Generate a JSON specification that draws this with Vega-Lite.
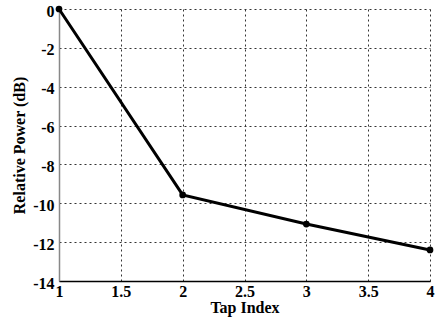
{
  "$schema": "https://vega.github.io/schema/vega-lite/v6.json",
  "width": 371,
  "height": 272,
  "autosize": "none",
  "padding": {"left": 59, "top": 9, "right": 5, "bottom": 40},
  "background": "white",
  "config": {
    "view": {"stroke": null},
    "axis": {
      "labelFont": "Liberation Serif",
      "titleFont": "Liberation Serif",
      "labelFontWeight": "bold",
      "titleFontWeight": "bold",
      "labelFontSize": 16,
      "titleFontSize": 16,
      "labelColor": "black",
      "titleColor": "black",
      "grid": true,
      "gridColor": "#333",
      "gridDash": [2, 3],
      "gridWidth": 1,
      "ticks": false,
      "labelPadding": 2,
      "labelExpr": "toString(datum.value)"
    }
  },
  "data": {
    "values": [
      {"tap": 1, "power": 0},
      {"tap": 2, "power": -9.57},
      {"tap": 3, "power": -11.07},
      {"tap": 4, "power": -12.4}
    ]
  },
  "mark": {"type": "line", "color": "black", "strokeWidth": 3, "point": {"filled": true, "color": "black", "size": 45}},
  "encoding": {
    "x": {
      "field": "tap", "type": "quantitative",
      "scale": {"domain": [1, 4], "nice": false},
      "axis": {"values": [1, 1.5, 2, 2.5, 3, 3.5, 4], "title": "Tap Index", "titlePadding": 0, "domainColor": "black", "domainWidth": 1.5, "labelFlush": false}
    },
    "y": {
      "field": "power", "type": "quantitative",
      "scale": {"domain": [-14, 0], "nice": false},
      "axis": {"values": [-14, -12, -10, -8, -6, -4, -2, 0], "title": "Relative Power (dB)", "titlePadding": 5, "domainColor": "#888", "domainWidth": 1.5, "labelFlush": false, "labelOffset": 2, "labelPadding": 5}
    }
  }
}
